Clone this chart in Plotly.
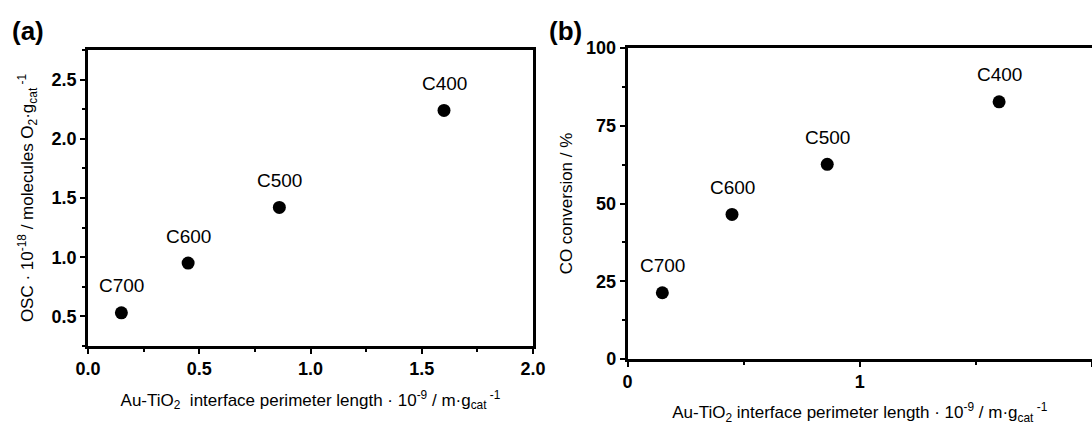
import plotly.graph_objects as go

samples = ["C700", "C600", "C500", "C400"]
perimeter = [0.15, 0.45, 0.86, 1.60]
osc = [0.53, 0.95, 1.42, 2.24]
co_conv = [21.3, 46.5, 62.6, 82.7]

xa_ticks = [0.0, 0.5, 1.0, 1.5, 2.0]
xa_labels = ["0.0", "0.5", "1.0", "1.5", "2.0"]
ya_ticks = [0.5, 1.0, 1.5, 2.0, 2.5]
ya_labels = ["0.5", "1.0", "1.5", "2.0", "2.5"]
xb_ticks = [0, 1, 2]
xb_labels = ["0", "1", "2"]
yb_ticks = [0, 25, 50, 75, 100]
yb_labels = ["0", "25", "50", "75", "100"]

FONT = "Liberation Sans, Arial, sans-serif"
W, H = 1092, 425

def px_x(p):
    return p / W

def px_y(p):
    return (H - p) / H

def bold(labels):
    return ["<b>%s</b>" % t for t in labels]

fig = go.Figure()
fig.add_trace(go.Scatter(x=perimeter, y=osc, mode="markers",
                         marker=dict(color="black", size=13),
                         xaxis="x", yaxis="y", showlegend=False, cliponaxis=False))
fig.add_trace(go.Scatter(x=perimeter, y=co_conv, mode="markers",
                         marker=dict(color="black", size=13),
                         xaxis="x2", yaxis="y2", showlegend=False, cliponaxis=False))

annotations = []
for s, xv, yv in zip(samples, perimeter, osc):
    annotations.append(dict(x=xv, y=yv, xref="x", yref="y", text=s, showarrow=False,
                            yshift=27, font=dict(family=FONT, size=19, color="black")))
for s, xv, yv in zip(samples, perimeter, co_conv):
    annotations.append(dict(x=xv, y=yv, xref="x2", yref="y2", text=s, showarrow=False,
                            yshift=27, font=dict(family=FONT, size=19, color="black")))
annotations.append(dict(x=px_x(28), y=px_y(31), xref="paper", yref="paper", text="<b>(a)</b>",
                        xanchor="center", yanchor="middle",
                        showarrow=False, font=dict(family=FONT, size=26, color="black")))
annotations.append(dict(x=px_x(565), y=px_y(31), xref="paper", yref="paper", text="<b>(b)</b>",
                        xanchor="center", yanchor="middle",
                        showarrow=False, font=dict(family=FONT, size=26, color="black")))

xtitle = "Au-TiO<sub>2</sub>  interface perimeter length · 10<sup>-9</sup> / m·g<sub>cat</sub><sup> -1</sup>"
xtitle_b = "Au-TiO<sub>2</sub> interface perimeter length · 10<sup>-9</sup> / m·g<sub>cat</sub><sup> -1</sup>"

axis_common = dict(showline=True, linecolor="black", linewidth=2.5, mirror=True,
                   ticks="outside", ticklen=5, tickwidth=2, tickcolor="black",
                   showgrid=False, zeroline=False, automargin=False,
                   tickfont=dict(family=FONT, size=18, color="black"))

minor_common = dict(ticks="outside", ticklen=3, tickwidth=2, tickcolor="black")

fig.update_layout(
    width=W, height=H, margin=dict(l=0, r=0, t=0, b=0, autoexpand=False),
    paper_bgcolor="white", plot_bgcolor="white",
    font=dict(family=FONT, color="black"),
    xaxis=dict(domain=[px_x(88), px_x(533)], range=[0, 2.0],
               tickmode="array", tickvals=xa_ticks, ticktext=bold(xa_labels),
               minor=dict(dtick=0.25, tick0=0, **minor_common),
               title=dict(text=xtitle, font=dict(family=FONT, size=17), standoff=16),
               anchor="y", **axis_common),
    yaxis=dict(domain=[px_y(346), px_y(50)], range=[0.25, 2.75],
               tickmode="array", tickvals=ya_ticks, ticktext=bold(ya_labels),
               minor=dict(dtick=0.25, tick0=0.25, **minor_common),
               title=dict(text="OSC · 10<sup>-18</sup> / molecules O<sub>2</sub>·g<sub>cat</sub><sup> -1</sup>",
                          font=dict(family=FONT, size=17), standoff=14),
               anchor="x", **axis_common),
    xaxis2=dict(domain=[px_x(627.5), 1.0], range=[0, 2.0],
                tickmode="array", tickvals=xb_ticks, ticktext=bold(xb_labels),
                minor=dict(dtick=0.5, tick0=0, **minor_common),
                title=dict(text=xtitle_b, font=dict(family=FONT, size=17), standoff=17),
                anchor="y2", **axis_common),
    yaxis2=dict(domain=[px_y(359), px_y(48)], range=[0, 100],
                tickmode="array", tickvals=yb_ticks, ticktext=bold(yb_labels),
                minor=dict(dtick=12.5, tick0=0, **minor_common),
                title=dict(text="CO conversion / %", font=dict(family=FONT, size=17), standoff=10),
                anchor="x2", **axis_common),
    annotations=annotations,
)

fig.write_html("out.html", config={"displayModeBar": False},
               post_script="document.body.style.margin='0';document.body.style.overflow='hidden';")
